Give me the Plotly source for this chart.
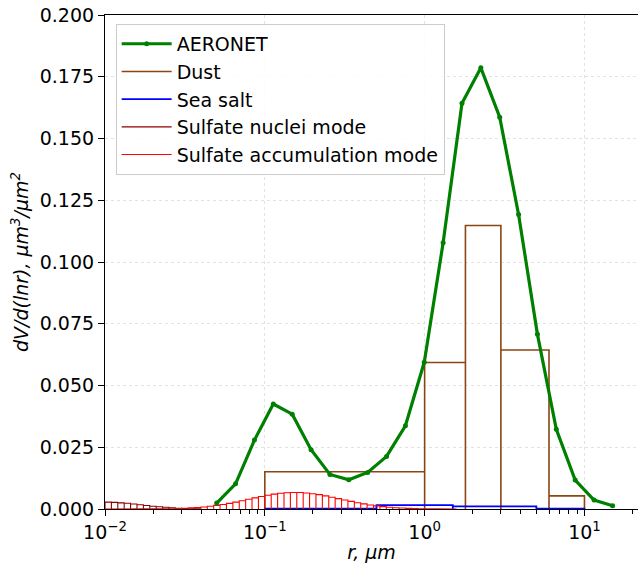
import numpy as np
import plotly.graph_objects as go

# ---------------- data ----------------
aeronet_r = [0.05, 0.0656, 0.0861, 0.113, 0.1484, 0.1947, 0.2555, 0.3353, 0.44,
             0.5775, 0.7579, 0.9946, 1.3052, 1.7128, 2.2478, 2.9498, 3.8711,
             5.0802, 6.6669, 8.7491, 11.4817, 15.0]
aeronet_v = [0.0024, 0.0102, 0.0279, 0.0425, 0.0384, 0.0240, 0.0140, 0.0118,
             0.0148, 0.0213, 0.0337, 0.0594, 0.1078, 0.1643, 0.1786, 0.1586,
             0.1192, 0.0707, 0.0323, 0.0117, 0.0036, 0.0013]

dust_edges = [0.1, 1.0, 1.8, 3.0, 6.0, 10.0]
dust_v = [0.0151, 0.0593, 0.1148, 0.0644, 0.0053]

seasalt_edges = [0.1, 0.5, 1.5, 5.0, 10.0]
seasalt_v = [0.0001, 0.0016, 0.0011, 0.0001]

# sulfate bins: 25 per decade starting at 0.01
sulf_bins_per_decade = 25
sulf_nuclei_v = [0.0028, 0.0027, 0.0025, 0.0023, 0.0020, 0.0017, 0.0014,
                 0.0011, 0.0009, 0.0007, 0.0005, 0.0003, 0.0002, 0.0001,
                 0.00005]
sulf_accum_v = [0.0, 0.0, 0.0, 0.0, 0.0, 0.0, 0.00001, 0.00002, 0.00004,
                0.00008, 0.00015, 0.00022, 0.00032, 0.00045, 0.00063,
                0.00084, 0.00112, 0.00145, 0.00184, 0.00229, 0.0028,
                0.00334, 0.00392, 0.0045, 0.00506, 0.00557, 0.00602,
                0.00636, 0.00659, 0.0067, 0.00666, 0.00649, 0.0062,
                0.0058, 0.00532, 0.00478, 0.00421, 0.00363, 0.00307,
                0.00254, 0.00206, 0.00164, 0.00128, 0.00097, 0.00073,
                0.00053, 0.00038, 0.00027, 0.00019, 0.00013, 0.00008,
                0.00005, 0.00003, 0.00002, 0.00001]

x_ticks = [0.01, 0.1, 1, 10]
x_labels = ["10<sup>−2</sup>", "10<sup>−1</sup>", "10<sup>0</sup>", "10<sup>1</sup>"]
y_ticks = [0.0, 0.025, 0.05, 0.075, 0.1, 0.125, 0.15, 0.175, 0.2]
y_labels = ["0.000", "0.025", "0.050", "0.075", "0.100", "0.125", "0.150",
            "0.175", "0.200"]


def outline(edges, vals):
    xs, ys = [], []
    for i, v in enumerate(vals):
        xs += [edges[i], edges[i], edges[i + 1], edges[i + 1]]
        ys += [0, v, v, 0]
    return xs, ys


def sulf_edges(n):
    return [10 ** (-2 + k / sulf_bins_per_decade) for k in range(n + 1)]


FONT = "DejaVu Sans"
fig = go.Figure()

dx, dy = outline(dust_edges, dust_v)
sx, sy = outline(seasalt_edges, seasalt_v)
nx, ny = outline(sulf_edges(len(sulf_nuclei_v)), sulf_nuclei_v)
ax_, ay_ = outline(sulf_edges(len(sulf_accum_v)), sulf_accum_v)

fig.add_trace(go.Scatter(x=dx, y=dy, mode="lines", name="Dust", legendgroup="b",
                         legendrank=1,
                         line=dict(color="#8B4513", width=1.6)))
fig.add_trace(go.Scatter(x=sx, y=sy, mode="lines", name="Sea salt", legendgroup="c",
                         legendrank=2,
                         line=dict(color="#0000FF", width=1.8)))
fig.add_trace(go.Scatter(x=nx, y=ny, mode="lines", name="Sulfate nuclei mode",
                         legendgroup="d", legendrank=3,
                         line=dict(color="#8B0000", width=1.1)))
fig.add_trace(go.Scatter(x=ax_, y=ay_, mode="lines", name="Sulfate accumulation mode",
                         legendgroup="e", legendrank=4,
                         line=dict(color="#FF0000", width=1.1)))
fig.add_trace(go.Scatter(x=aeronet_r, y=aeronet_v, mode="lines+markers",
                         name="AERONET", legendgroup="a", legendrank=0,
                         line=dict(color="#008000", width=3.2),
                         marker=dict(size=5, color="#008000")))

minor_vals = [m * 10 ** e for e in range(-2, 2) for m in range(2, 10)]

fig.update_layout(
    width=638, height=565,
    margin=dict(l=105, r=0, t=15, b=56),
    paper_bgcolor="white", plot_bgcolor="white",
    font=dict(family=FONT, size=19, color="black"),
    showlegend=True,
    legend=dict(x=0.02, y=0.982, xanchor="left", yanchor="top",
                bgcolor="rgba(255,255,255,0.85)", bordercolor="#cccccc",
                borderwidth=1, font=dict(family=FONT, size=19),
                traceorder="normal", tracegroupgap=4,
                itemwidth=50),
    xaxis=dict(type="log", range=[-2, 1.335], tickmode="array",
               tickvals=x_ticks, ticktext=x_labels,
               ticks="outside", ticklen=6, tickwidth=1.2, tickcolor="black",
               showline=True, linecolor="black", linewidth=1.2, mirror=True,
               showgrid=True, gridcolor="#e2e2e2", gridwidth=0.8, griddash="dot",
               zeroline=False,
               minor=dict(tickmode="array", tickvals=minor_vals, ticks="outside",
                          ticklen=3.5, tickwidth=1, tickcolor="black",
                          showgrid=False),
               tickfont=dict(family=FONT, size=19),
               title=dict(text="<i>r, μm</i>", font=dict(family=FONT, size=19),
                          standoff=3)),
    yaxis=dict(range=[0, 0.2], tickmode="array", tickvals=y_ticks, ticktext=y_labels,
               ticks="outside", ticklen=6, tickwidth=1.2, tickcolor="black",
               showline=True, linecolor="black", linewidth=1.2,
               showgrid=True, gridcolor="#e2e2e2", gridwidth=0.8, griddash="dot",
               zeroline=False,
               tickfont=dict(family=FONT, size=19),
               title=dict(text="<i>dV/d(lnr), μm<sup>3</sup>/μm<sup>2</sup></i>",
                          font=dict(family=FONT, size=19), standoff=6)),
)

fig.write_html("out.html", config={"displayModeBar": False},
               post_script="document.body.style.margin='0';"
                           "document.body.style.overflow='hidden';")
